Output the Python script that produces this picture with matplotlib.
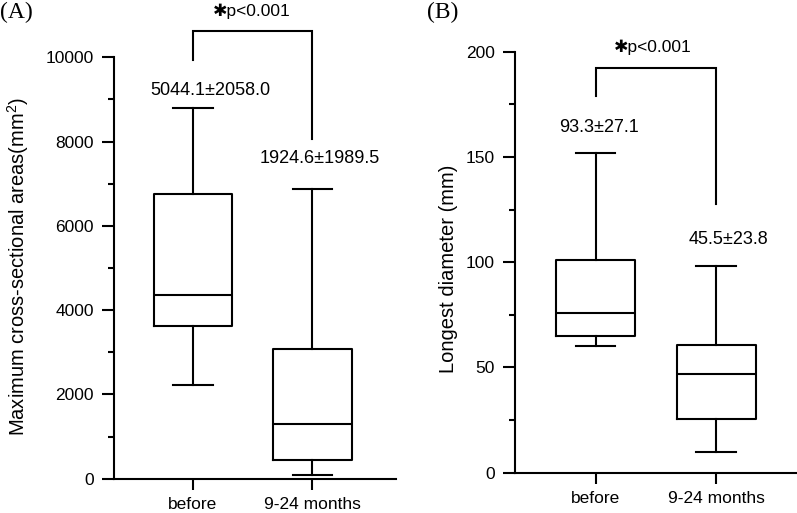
import matplotlib
matplotlib.use("Agg")
import matplotlib.pyplot as plt

# ---------------- data ----------------
groups = ["before", "9-24 months"]

# Panel A: maximum cross-sectional areas (mm^2)
a_whislo = [2218, 95]
a_q1 = [3634, 437]
a_med = [4371, 1299]
a_q3 = [6746, 3081]
a_whishi = [8789, 6865]
a_labels = ["5044.1±2058.0", "1924.6±1989.5"]
a_pval = "✱p<0.001"

# Panel B: longest diameter (mm)
b_whislo = [60, 9.8]
b_q1 = [64.8, 25.4]
b_med = [76, 46.9]
b_q3 = [101.2, 60.5]
b_whishi = [152, 98]
b_labels = ["93.3±27.1", "45.5±23.8"]
b_pval = "✱p<0.001"

FAM = ["Liberation Sans", "DejaVu Sans"]
plt.rcParams["font.family"] = FAM
plt.rcParams["mathtext.fontset"] = "custom"
plt.rcParams["mathtext.rm"] = "Liberation Sans"
LW = 1.5

W, H = 797, 513
fig = plt.figure(figsize=(W / 100, H / 100), dpi=100)


def px_axes(left, right, top, bottom):
    return fig.add_axes([left / W, 1 - bottom / H, (right - left) / W, (bottom - top) / H])


def make_panel(ax, lo, q1, med, q3, hi, ymax, major, minor):
    stats = []
    for i, g in enumerate(groups):
        stats.append(dict(whislo=lo[i], q1=q1[i], med=med[i], q3=q3[i], whishi=hi[i],
                          fliers=[], label=g))
    props = dict(color="black", linewidth=LW)
    ax.bxp(stats, positions=[1, 2], widths=0.656, capwidths=0.33, showfliers=False,
           boxprops=props, whiskerprops=props, capprops=props,
           medianprops=dict(color="black", linewidth=LW))
    ax.set_ylim(0, ymax)
    ax.set_yticks(major)
    ax.set_yticks(minor, minor=True)
    for s in ["top", "right"]:
        ax.spines[s].set_visible(False)
    for s in ["left", "bottom"]:
        ax.spines[s].set_linewidth(LW)
    ax.tick_params(axis="y", which="major", length=8.6, width=LW, labelsize=12.5, pad=6)
    ax.tick_params(axis="y", which="minor", length=4.3, width=LW)
    ax.tick_params(axis="x", which="major", length=8, width=LW, labelsize=12.5, pad=5)
    ax.set_facecolor("none")


def bracket(ax, ytop, yl, yr, txt, tx, ty):
    ax.plot([1, 1, 2, 2], [yl, ytop, ytop, yr], color="black", lw=LW, clip_on=False,
            solid_joinstyle="miter")
    ax.text(tx, ty, txt, ha="center", va="center", fontsize=12.5)


# Panel A
axA = px_axes(114, 396, 57.3, 478.7)
make_panel(axA, a_whislo, a_q1, a_med, a_q3, a_whishi, 10000,
           [0, 2000, 4000, 6000, 8000, 10000], [1000, 3000, 5000, 7000, 9000])
axA.set_xlim(0.34, 2.70)
bracket(axA, 10634, 9945, 8062, a_pval, 1.49, 11085)
axA.text(1.145, 9216, a_labels[0], ha="center", va="center", fontsize=13)
axA.text(2.066, 7594, a_labels[1], ha="center", va="center", fontsize=13)
fig.text(18.5 / W, 1 - 266.5 / H, "Maximum cross-sectional areas(mm$^{\\rm 2}$)", rotation=90,
         ha="center", va="center", fontsize=14.5)
fig.text(0 / W, 1 - 12 / H, "(A)", ha="left", va="center", fontsize=17,
         family="Liberation Serif")

# Panel B
axB = px_axes(515, 797, 51.7, 472.7)
make_panel(axB, b_whislo, b_q1, b_med, b_q3, b_whishi, 200,
           [0, 50, 100, 150, 200], [25, 75, 125, 175])
axB.set_xlim(0.332, 2.67)
bracket(axB, 192.3, 179.1, 127.5, b_pval, 1.477, 201.9)
axB.text(1.03, 164.2, b_labels[0], ha="center", va="center", fontsize=13)
axB.text(2.10, 110.9, b_labels[1], ha="center", va="center", fontsize=13)
fig.text(448 / W, 1 - 268.5 / H, "Longest diameter (mm)", rotation=90,
         ha="center", va="center", fontsize=14.5)
fig.text(427 / W, 1 - 12 / H, "(B)", ha="left", va="center", fontsize=17,
         family="Liberation Serif")

fig.savefig("out.png", dpi=100, facecolor="white")
